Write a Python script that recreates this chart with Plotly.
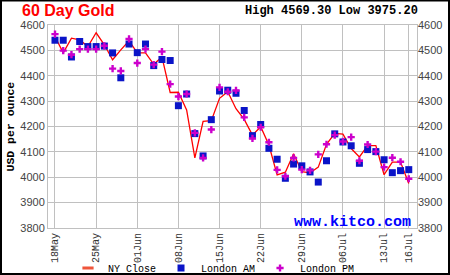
import plotly.graph_objects as go
import pandas as pd

# ---- data ----
dates = pd.bdate_range("2026-05-18", "2026-07-16")
ny_close = [4555, 4490, 4548, 4541, 4515, 4569.3, 4522, 4463, 4502, 4538,
            4490, 4490, 4445, 4474, 4334, 4335, 4265, 4076, 4220, 4223,
            4311, 4337, 4270, 4228, 4166, 4199, 4127, 4009, 4020, 4093,
            4022, 4017, 4040, 4130, 4173, 4170, 4113, 4080, 4125, 4125,
            4010, 4060, 4060, 3975.2]
london_am = [4540, 4540, 4474, 4535, 4515, 4515, 4517, 4490, 4392, 4525,
             4491, 4525, 4440, 4464, 4460, 4282, 4328, 4172, 4084, 4227,
             4340, 4343, 4331, 4263, 4164, 4208, 4114, 4071, 3996, 4052,
             4045, 4021, 3981, 4065, 4171, 4139, 4124, 4055, 4109, 4101,
             4069, 4018, 4026, 4030]
london_pm = [4564, 4499, 4483, 4505, 4505, 4505, 4518, 4428, 4419, 4545,
             4450, 4505, 4444, 4495, 4367, 4318, 4328, 4175, 4076, 4188,
             4354, 4337, 4342, 4236, 4153, 4197, 4138, 4029, 4004, 4076,
             4030, 4027, 4090, 4130, 4166, 4141, 4158, 4065, 4129, 4101,
             4040, 4077, 4061, 3994]
y_ticks = [3800, 3900, 4000, 4100, 4200, 4300, 4400, 4500, 4600]

x = list(range(len(dates)))
tick_idx = [i for i, d in enumerate(dates) if d.weekday() == 0] + [len(dates) - 1]
tick_txt = [dates[i].strftime("%d%b") for i in tick_idx]

W, H = 450, 275
ML, MR, MT, MB = 48, 33, 25, 47
PW, PH = W - ML - MR, H - MT - MB

grid = "#c0c0c0"
mono = "Liberation Mono, DejaVu Sans Mono, monospace"
sans = "Liberation Sans, Arial, sans-serif"

fig = go.Figure()
fig.add_trace(go.Scatter(x=x, y=ny_close, mode="lines", line=dict(color="#ff0000", width=1.3),
                         showlegend=False))
fig.add_trace(go.Scatter(x=[None], y=[None], mode="markers", name="NY Close",
                         marker=dict(symbol="line-ew-open", size=8,
                                     line=dict(color="#ff0000", width=3))))
fig.add_trace(go.Scatter(x=x, y=london_am, mode="markers", name="London AM",
                         marker=dict(symbol="square", size=7, color="#0a14c8")))
fig.add_trace(go.Scatter(x=x, y=london_pm, mode="markers", name="London PM",
                         marker=dict(symbol="cross", size=6, color="#cc00cc")))
fig.add_trace(go.Scatter(x=[0], y=[4000], yaxis="y2", mode="markers",
                         marker=dict(opacity=0), showlegend=False, hoverinfo="skip"))

fig.update_layout(
    width=W, height=H,
    margin=dict(l=ML, r=MR, t=MT, b=MB, pad=0, autoexpand=False),
    paper_bgcolor="white", plot_bgcolor="white",
    xaxis=dict(range=[-0.85, 44.0], tickmode="array", tickvals=tick_idx, ticktext=tick_txt,
               tickangle=-90, showgrid=True, gridcolor=grid, gridwidth=1,
               showline=True, linecolor=grid, mirror=True, zeroline=False,
               ticks="", tickfont=dict(family=mono, size=10, color="#333333")),
    yaxis=dict(range=[3800, 4600], tickvals=y_ticks, showgrid=True, gridcolor=grid,
               gridwidth=1, showline=True, linecolor=grid, mirror=True, zeroline=False,
               ticks="", tickfont=dict(family=sans, size=11, color="#444444")),
    yaxis2=dict(range=[3800, 4600], tickvals=y_ticks, overlaying="y", side="right",
                showgrid=False, zeroline=False, ticks="",
                tickfont=dict(family=sans, size=11, color="#444444")),
    legend=dict(orientation="h", x=(68 - ML) / PW, xanchor="left",
                y=-(268 - MT - PH) / PH, yanchor="middle", itemwidth=30,
                font=dict(family=mono, size=10, color="#000000"),
                bgcolor="rgba(0,0,0,0)"),
    showlegend=True,
)

fig.add_annotation(xref="paper", yref="paper", x=(20 - ML) / PW, y=1 + (MT - 10.5) / PH,
                   xanchor="left", yanchor="middle", showarrow=False,
                   text="<b>60 Day Gold</b>", font=dict(family=sans, size=16, color="#ff0000"))
fig.add_annotation(xref="paper", yref="paper", x=(420 - ML) / PW, y=1 + (MT - 11) / PH,
                   xanchor="right", yanchor="middle", showarrow=False,
                   text="<b>High 4569.30 Low 3975.20</b>",
                   font=dict(family=mono, size=12, color="#000000"))
fig.add_annotation(xref="paper", yref="paper", x=(10 - ML) / PW, y=0.5,
                   xanchor="center", yanchor="middle", showarrow=False, textangle=-90,
                   text="<b>USD per ounce</b>", font=dict(family=mono, size=11.5, color="#000000"))
fig.add_annotation(xref="paper", yref="paper", x=(413 - ML) / PW, y=(MT + PH - 222) / PH,
                   xanchor="right", yanchor="middle", showarrow=False,
                   text="<b>www.kitco.com</b>", font=dict(family=mono, size=15, color="#0000ff"))

fig.add_shape(type="rect", xref="paper", yref="paper", layer="above",
              x0=(1 - ML) / PW, x1=(W - 1 - ML) / PW,
              y0=-(MB - 1) / PH, y1=1 + (MT - 0.5) / PH,
              line=dict(color="black", width=2))

fig.write_html("out.html")
